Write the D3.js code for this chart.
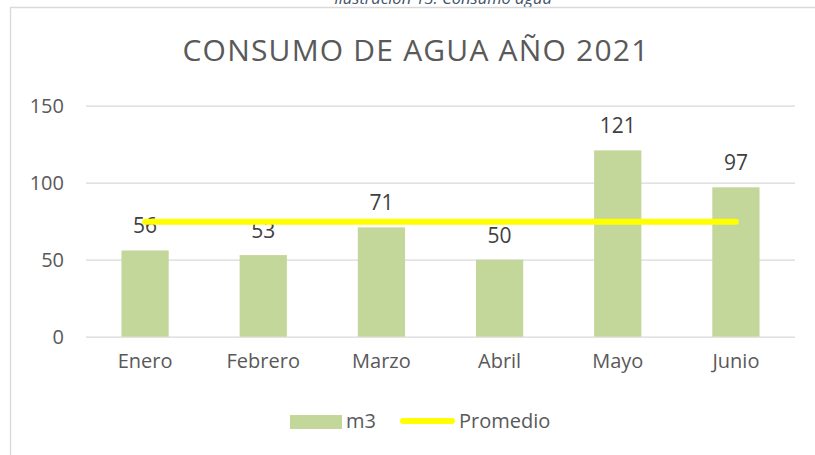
<!DOCTYPE html>
<html>
<head>
<meta charset="utf-8" />
<title>Consumo de agua 2021</title>
<style>
body { margin: 0; background: #fff; }
#graph { width: 815px; height: 455px; overflow: hidden; }
text { font-family: "Open Sans", "Liberation Sans", sans-serif; }
</style>
</head>
<body>
<div id="graph"></div>
<script src="https://cdnjs.cloudflare.com/ajax/libs/d3/7.8.5/d3.min.js"></script>
<script>
var meses = ["Enero", "Febrero", "Marzo", "Abril", "Mayo", "Junio"]
var m3 = [56, 53, 71, 50, 121, 97]
var promedio = [74.7, 74.7, 74.7, 74.7, 74.7, 74.7]
var yTicks = [0, 50, 100, 150]
var titulo = "CONSUMO DE AGUA AÑO 2021"
var leyenda = ["m3", "Promedio"]

!(function(){
    "use strict"

    var width = 815, height = 455
    var margin = {top: 105.7, left: 86, bottom: 455 - 336.7, right: 815 - 795}
    var chartWidth = width - margin.left - margin.right
    var chartHeight = height - margin.top - margin.bottom

    var svg = d3.select("#graph").append("svg")
        .attr("width", width).attr("height", height)
        .style("display", "block")

    // caption, cut at the top of the picture like in the source
    svg.append("text")
        .attr("x", 443).attr("y", 4)
        .attr("text-anchor", "middle")
        .attr("font-size", 16.5)
        .attr("font-style", "italic")
        .attr("fill", "#44546A")
        .text("Ilustración 13: Consumo agua")

    // chart frame (only left and top edges are inside the picture)
    svg.append("path")
        .attr("d", "M10.5," + height + "V7.5H" + width)
        .attr("fill", "none")
        .attr("stroke", "#D9D9D9")
        .attr("stroke-width", 1.3)

    svg.append("text")
        .attr("x", 416).attr("y", 61)
        .attr("text-anchor", "middle")
        .attr("font-size", 30)
        .attr("letter-spacing", 1.2)
        .attr("fill", "#595959")
        .text(titulo)

    var chart = svg.append("g")
        .attr("transform", "translate(" + [margin.left, margin.top] + ")")

    var xScale = d3.scaleBand().domain(meses).range([0, chartWidth])
        .paddingInner(0.6)
        .paddingOuter(0.3)
    var yScale = d3.scaleLinear().domain([0, 150]).range([chartHeight, 0])

    // y axis with grid
    var yAxis = d3.axisLeft(yScale)
        .tickValues(yTicks)
        .tickSize(-chartWidth)
        .tickPadding(22)
    var yg = chart.append("g").call(yAxis)
    yg.select(".domain").remove()
    yg.selectAll(".tick line").attr("stroke", "#D9D9D9").attr("stroke-width", 1.3)
    yg.selectAll(".tick text")
        .attr("font-size", 20)
        .attr("font-family", null)
        .attr("fill", "#595959")

    // x axis labels
    var xAxis = d3.axisBottom(xScale).tickSize(0).tickPadding(17)
    var xg = chart.append("g")
        .attr("transform", "translate(0," + chartHeight + ")")
        .call(xAxis)
    xg.select(".domain").remove()
    xg.selectAll(".tick text")
        .attr("font-size", 20)
        .attr("font-family", null)
        .attr("fill", "#595959")

    var data = meses.map(function(d, i){ return {mes: d, m3: m3[i], prom: promedio[i]} })

    chart.selectAll(".bar").data(data).enter().append("rect")
        .attr("class", "bar")
        .attr("x", function(d){ return xScale(d.mes) })
        .attr("y", function(d){ return yScale(d.m3) })
        .attr("width", xScale.bandwidth())
        .attr("height", function(d){ return chartHeight - yScale(d.m3) })
        .attr("fill", "#C4D79B")

    chart.selectAll(".lbl").data(data).enter().append("text")
        .attr("class", "lbl")
        .attr("x", function(d){ return xScale(d.mes) + xScale.bandwidth() / 2 })
        .attr("y", function(d){ return yScale(d.m3) - 17 })
        .attr("text-anchor", "middle")
        .attr("font-size", 21)
        .attr("fill", "#404040")
        .text(function(d){ return d.m3 })

    var line = d3.line()
        .x(function(d){ return xScale(d.mes) + xScale.bandwidth() / 2 })
        .y(function(d){ return yScale(d.prom) })
    chart.append("path")
        .datum(data)
        .attr("d", line)
        .attr("fill", "none")
        .attr("stroke", "#FFFF00")
        .attr("stroke-width", 6)
        .attr("stroke-linecap", "round")

    // legend
    var lg = svg.append("g")
    lg.append("rect")
        .attr("x", 290).attr("y", 415)
        .attr("width", 52).attr("height", 14)
        .attr("fill", "#C4D79B")
    lg.append("text")
        .attr("x", 346).attr("y", 428)
        .attr("font-size", 20)
        .attr("fill", "#595959")
        .text(leyenda[0])
    lg.append("line")
        .attr("x1", 403).attr("x2", 452)
        .attr("y1", 421).attr("y2", 421)
        .attr("stroke", "#FFFF00")
        .attr("stroke-width", 6)
        .attr("stroke-linecap", "round")
    lg.append("text")
        .attr("x", 459).attr("y", 428)
        .attr("font-size", 20)
        .attr("fill", "#595959")
        .text(leyenda[1])

}());
</script>
</body>
</html>
